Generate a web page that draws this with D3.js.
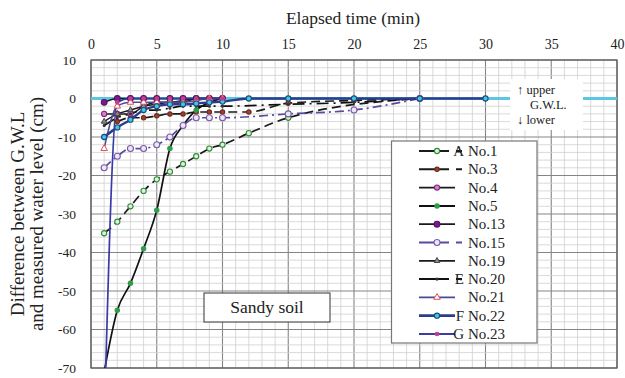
<!DOCTYPE html>
<html>
<head>
<meta charset="utf-8">
<script src="https://cdn.jsdelivr.net/npm/d3@7"></script>
<style>
  body { margin: 0; background: #fff; }
  text { font-family: "Liberation Serif", "Times New Roman", serif; fill: #222; }
</style>
</head>
<body>
<div id="chart"></div>
<script>
const timeTicks = [0, 5, 10, 15, 20, 25, 30, 35, 40];
const levelTicks = [10, 0, -10, -20, -30, -40, -50, -60, -70];

// readings per test (time in min, level in cm)
const no1Time = [1, 2, 3, 4, 5, 6, 7, 8, 9, 10, 12, 15, 25];
const no1Level = [-35, -32, -28, -24, -21, -19, -17, -15, -13, -12, -9, -5, 0];
const no3Time = [2, 3, 4, 5, 6, 7, 8, 9, 10, 12, 15, 20, 25];
const no3Level = [-6, -5, -5, -4.5, -4, -4, -3.5, -3.5, -3.5, -3.5, -1.2, -0.5, 0];
const no4Time = [1, 2, 3, 4, 5, 6, 7, 8, 9, 10];
const no4Level = [-4, -4, -4, -2, -1, -1, -0.5, 0, 0, 0];
const no5Time = [1, 2, 3, 4, 5, 6, 7, 8, 9, 10];
const no5Level = [-71, -55, -48, -39, -29, -13, -7, -3, -1, 0];
const no13Time = [1, 2, 3, 4, 5, 6, 7, 8, 9, 10];
const no13Level = [-1, 0, 0, 0, 0, 0, 0, 0, 0, 0];
const no15Time = [1, 2, 3, 4, 5, 6, 7, 8, 9, 10, 15, 20, 25];
const no15Level = [-18, -15, -13, -13, -12, -10, -7, -5, -5, -5, -4, -3, 0];
const no19Time = [1, 2, 3, 4, 5, 6, 7, 8, 9, 10];
const no19Level = [-6, -4, -3, -2, -1.5, -1, -1, 0, 0, 0];
const no20Time = [1, 2, 3, 4, 5, 6, 7, 8, 9, 10, 15, 20, 25];
const no20Level = [-7, -5, -4, -3, -3, -2.5, -2, -2, -2, -2, -1.5, -1, 0];
const no21Time = [1, 2, 3, 4, 5, 6, 7, 8, 9, 10];
const no21Level = [-13, -2, -1, -1, -1, -1, -1, -0.5, 0, 0];
const no22Time = [1, 2, 3, 4, 5, 6, 7, 8, 9, 10, 12, 15, 20, 25, 30];
const no22Level = [-10, -7.5, -5.5, -3, -2, -1.5, -1.5, -1.3, -1, -0.8, 0, 0, 0, 0, 0];
const no23Time = [1, 2, 3, 4, 5, 6, 7, 8, 9, 10];
const no23Level = [-85, -1, 0, 0, 0, 0, 0, 0, 0, 0];

const seriesNames = ["No.1", "No.3", "No.4", "No.5", "No.13", "No.15", "No.19", "No.20", "No.21", "No.22", "No.23"];
const seriesPrefix = ["A", "", "", "", "", "", "", "E", "", "F", "G"];
const seriesTimes = [no1Time, no3Time, no4Time, no5Time, no13Time, no15Time, no19Time, no20Time, no21Time, no22Time, no23Time];
const seriesLevels = [no1Level, no3Level, no4Level, no5Level, no13Level, no15Level, no19Level, no20Level, no21Level, no22Level, no23Level];

const styles = {
  "No.1":  { line: "#1a1a1a", width: 1.7, dash: "9,5", shape: "circle", r: 2.6, fill: "#dff0d8", stroke: "#2e8b3a" },
  "No.3":  { line: "#1a1a1a", width: 1.7, dash: "9,5", shape: "circle", r: 2.2, fill: "#a0402a", stroke: "#6b2a1a" },
  "No.4":  { line: "#1a1a1a", width: 1.5, dash: null, shape: "circle", r: 2.6, fill: "#d77fc8", stroke: "#7a2a7a" },
  "No.5":  { line: "#111", width: 1.7, dash: null, shape: "circle", r: 2.2, fill: "#2e9e4a", stroke: "#2e9e4a" },
  "No.13": { line: "#1a1a1a", width: 1.5, dash: null, shape: "circle", r: 2.9, fill: "#7a1a8a", stroke: "#5a106a" },
  "No.15": { line: "#5a4aa0", width: 1.7, dash: "9,4,2,4", shape: "circle", r: 3, fill: "#ece6f6", stroke: "#7a5aa8" },
  "No.19": { line: "#1a1a1a", width: 1.5, dash: null, shape: "triangle", r: 2, fill: "#8a8a9a", stroke: "#444" },
  "No.20": { line: "#111", width: 1.7, dash: "12,5,2,5", shape: "circle", r: 1, fill: "#333", stroke: "#333" },
  "No.21": { line: "#4a4a9a", width: 1.5, dash: null, shape: "triangle", r: 2.3, fill: "#fff", stroke: "#e05050" },
  "No.22": { line: "#2a3e8e", width: 2.4, dash: null, shape: "circle", r: 2.6, fill: "#40c8e0", stroke: "#1a4a80" },
  "No.23": { line: "#3a3aa8", width: 1.7, dash: null, shape: "circle", r: 1.8, fill: "#c0408a", stroke: "#c0408a" }
};

const series = seriesNames.map((name, i) => ({
  name,
  prefix: seriesPrefix[i],
  points: seriesTimes[i].map((t, j) => [t, seriesLevels[i][j]])
}));

const width = 625, height = 378;
const plot = { left: 91, right: 617, top: 60, bottom: 368 };

const svg = d3.select("#chart").append("svg")
  .attr("width", width)
  .attr("height", height);

const x = d3.scaleLinear().domain([0, 40]).range([plot.left, plot.right]);
const y = d3.scaleLinear().domain([-70, 10]).range([plot.bottom, plot.top]);

// grid
const grid = svg.append("g");
grid.selectAll(".vx").data(d3.range(0, 41, 1)).enter().append("line")
  .attr("x1", d => x(d)).attr("x2", d => x(d))
  .attr("y1", plot.top).attr("y2", plot.bottom)
  .attr("stroke", d => d % 5 === 0 ? "#858585" : "#cfcfcf")
  .attr("stroke-width", d => d % 5 === 0 ? 1.1 : 0.8);
grid.selectAll(".hy").data(d3.range(-70, 11, 2)).enter().append("line")
  .attr("y1", d => y(d)).attr("y2", d => y(d))
  .attr("x1", plot.left).attr("x2", plot.right)
  .attr("stroke", d => d % 10 === 0 ? "#858585" : "#cfcfcf")
  .attr("stroke-width", d => d % 10 === 0 ? 1.1 : 0.8);
svg.append("rect")
  .attr("x", plot.left).attr("y", plot.top)
  .attr("width", plot.right - plot.left).attr("height", plot.bottom - plot.top)
  .attr("fill", "none").attr("stroke", "#555").attr("stroke-width", 1.2);

// axes
const xAxis = svg.append("g")
  .attr("transform", `translate(0,${plot.top})`)
  .call(d3.axisTop(x).tickValues(timeTicks).tickSize(0).tickPadding(11));
xAxis.select(".domain").remove();
xAxis.selectAll("text").style("font-size", "14px").style("font-family", "Liberation Serif");

const yAxis = svg.append("g")
  .attr("transform", `translate(${plot.left},0)`)
  .call(d3.axisLeft(y).tickValues(levelTicks).tickFormat(d => String(d)).tickSize(0).tickPadding(15));
yAxis.select(".domain").remove();
yAxis.selectAll("text").style("font-size", "13.5px").style("font-family", "Liberation Serif");

svg.append("text")
  .attr("x", 353).attr("y", 24)
  .attr("text-anchor", "middle")
  .style("font-size", "17.5px")
  .text("Elapsed time (min)");

const yTitle = svg.append("text")
  .attr("transform", `translate(24,${(plot.top + plot.bottom) / 2}) rotate(-90)`)
  .attr("text-anchor", "middle")
  .style("font-size", "19px");
yTitle.append("tspan").attr("x", 0).attr("dy", 0).text("Difference between G.W.L");
yTitle.append("tspan").attr("x", 0).attr("dy", 19).text("and measured water level (cm)");

// ground water level line
svg.append("line")
  .attr("x1", plot.left).attr("x2", plot.right)
  .attr("y1", y(0)).attr("y2", y(0))
  .attr("stroke", "#5cc6e4").attr("stroke-width", 3);

svg.append("clipPath").attr("id", "clip")
  .append("rect")
  .attr("x", plot.left).attr("y", plot.top)
  .attr("width", plot.right - plot.left).attr("height", plot.bottom - plot.top);

const lineGen = d3.line()
  .x(d => x(d[0]))
  .y(d => y(d[1]))
  .curve(d3.curveMonotoneX);

const drawMarker = (sel, st) => {
  if (st.shape === "triangle") {
    sel.append("path")
      .attr("d", d3.symbol().type(d3.symbolTriangle).size(st.r * st.r * 3.5)())
      .attr("fill", st.fill).attr("stroke", st.stroke).attr("stroke-width", 1);
  } else {
    sel.append("circle")
      .attr("r", st.r)
      .attr("fill", st.fill).attr("stroke", st.stroke).attr("stroke-width", 1.1);
  }
};

const plotArea = svg.append("g").attr("clip-path", "url(#clip)");
series.forEach(s => {
  const st = styles[s.name];
  plotArea.append("path")
    .datum(s.points)
    .attr("d", lineGen)
    .attr("fill", "none")
    .attr("stroke", st.line)
    .attr("stroke-width", st.width)
    .attr("stroke-dasharray", st.dash);
});
series.forEach(s => {
  const st = styles[s.name];
  plotArea.selectAll(null).data(s.points).enter().append("g")
    .attr("transform", d => `translate(${x(d[0])},${y(d[1])})`)
    .each(function () { drawMarker(d3.select(this), st); });
});

// upper / lower note
svg.append("rect")
  .attr("x", 510).attr("y", 79).attr("width", 73).attr("height", 51)
  .attr("fill", "#fff");
const note = svg.append("g").style("font-size", "12.5px");
note.append("text").attr("x", 517).attr("y", 94).text("\u2191 upper");
note.append("text").attr("x", 530).attr("y", 109).text("G.W.L.");
note.append("text").attr("x", 517).attr("y", 124).text("\u2193 lower");

// soil label
svg.append("rect")
  .attr("x", 204).attr("y", 293).attr("width", 126).attr("height", 29)
  .attr("fill", "#fff").attr("stroke", "#333").attr("stroke-width", 1);
svg.append("text")
  .attr("x", 267).attr("y", 313)
  .attr("text-anchor", "middle")
  .style("font-size", "17.5px")
  .text("Sandy soil");

// legend
const legend = svg.append("g");
legend.append("rect")
  .attr("x", 391.5).attr("y", 141).attr("width", 145.5).attr("height", 202)
  .attr("fill", "#fff").attr("stroke", "#777").attr("stroke-width", 1.2);
series.forEach((s, i) => {
  const st = styles[s.name];
  const ly = 151 + i * 18.3;
  const row = legend.append("g");
  row.append("line")
    .attr("x1", 419).attr("x2", st.dash ? 462 : 455)
    .attr("y1", ly).attr("y2", ly)
    .attr("stroke", st.line).attr("stroke-width", st.width + 0.3)
    .attr("stroke-dasharray", st.dash ? "30,7,6" : null);
  drawMarker(row.append("g").attr("transform", `translate(437,${ly})`), st);
  if (s.prefix) {
    row.append("text").attr("x", 464).attr("y", ly + 5)
      .attr("text-anchor", "end").style("font-size", "15px").text(s.prefix);
  }
  row.append("text").attr("x", 468).attr("y", ly + 5)
    .style("font-size", "15px").text(s.name);
});
</script>
</body>
</html>
